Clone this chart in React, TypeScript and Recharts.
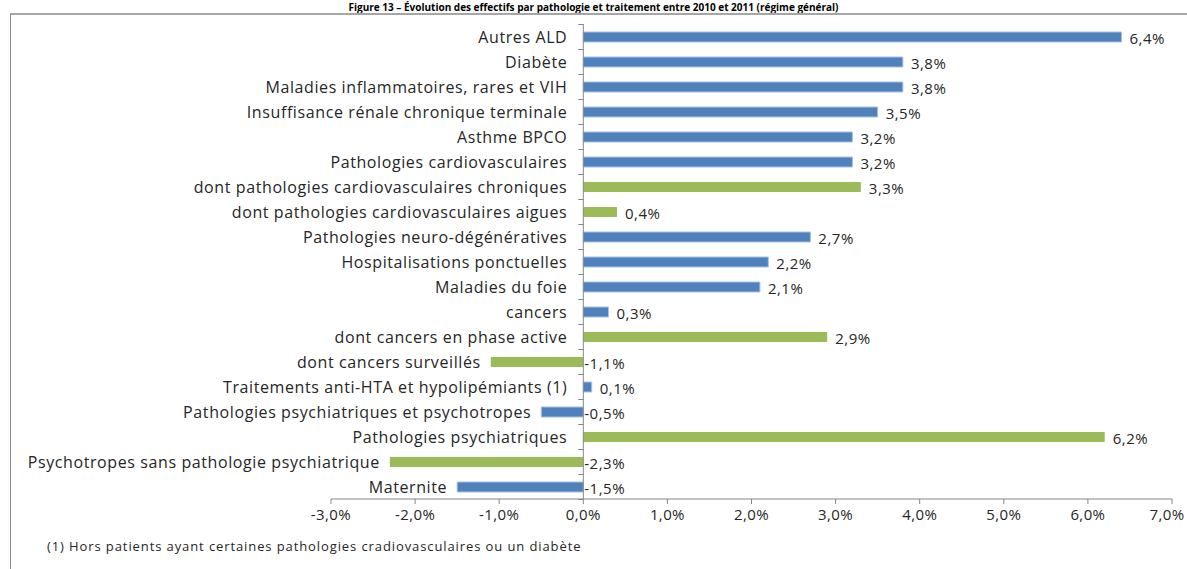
import React from 'react'
import { BarChart, Bar, XAxis, YAxis, ReferenceLine, LabelList, Cell } from 'recharts'

const categories = [
  'Autres ALD',
  'Diabète',
  'Maladies inflammatoires, rares et VIH',
  'Insuffisance rénale chronique terminale',
  'Asthme BPCO',
  'Pathologies cardiovasculaires',
  'dont pathologies cardiovasculaires chroniques',
  'dont pathologies cardiovasculaires aigues',
  'Pathologies neuro-dégénératives',
  'Hospitalisations ponctuelles',
  'Maladies du foie',
  'cancers',
  'dont cancers en phase active',
  'dont cancers surveillés',
  'Traitements anti-HTA et hypolipémiants (1)',
  'Pathologies psychiatriques et psychotropes',
  'Pathologies psychiatriques',
  'Psychotropes sans pathologie psychiatrique',
  'Maternite',
]
const values = [6.4, 3.8, 3.8, 3.5, 3.2, 3.2, 3.3, 0.4, 2.7, 2.2, 2.1, 0.3, 2.9, -1.1, 0.1, -0.5, 6.2, -2.3, -1.5]
// 'sub' = sous-catégorie "dont ..." (barres vertes)
const kinds = ['main', 'main', 'main', 'main', 'main', 'main', 'sub', 'sub', 'main', 'main', 'main', 'main', 'sub', 'sub', 'main', 'main', 'sub', 'sub', 'main']
const xTicks = [-3, -2, -1, 0, 1, 2, 3, 4, 5, 6, 7]

const BLUE = '#4f81bd'
const GREEN = '#9bbb59'
const FONT = '"Open Sans", sans-serif'
const TXT = '#262626'
const ROW = 25

const pct = (v: number) => `${v.toFixed(1).replace('.', ',')}%`

const data = categories.map((name, i) => ({ name, value: values[i], kind: kinds[i] }))

const NameLabel = (props: any) => {
  const { x, y, width, height, value, index } = props
  const left = Math.min(x, x + width)
  const zero = values[index] < 0 ? Math.max(x, x + width) : left
  const cy = y + height / 2
  const gap = values[index] < 0 ? 10 : 16
  return (
    <g>
      <text x={left - gap} y={cy} dy="0.35em" textAnchor="end" fontSize={16} letterSpacing={0.6} fontFamily={FONT} fill={TXT}>{value}</text>
      <line x1={zero - 5} x2={zero} y1={cy - ROW / 2} y2={cy - ROW / 2} stroke="#868686" />
      {index === categories.length - 1 && <line x1={zero - 5} x2={zero} y1={cy + ROW / 2} y2={cy + ROW / 2} stroke="#868686" />}
    </g>
  )
}

const ValueLabel = (props: any) => {
  const { x, y, width, height, index } = props
  const v = values[index]
  const right = Math.max(x, x + width)
  const lx = v < 0 ? right + 1 : right + 8
  return (
    <text x={lx} y={y + height / 2 + 2} dy="0.35em" textAnchor="start" fontSize={15} letterSpacing={0.5} fontFamily={FONT} fill={TXT}>{pct(v)}</text>
  )
}

// last tick label would run off the right edge: nudge it in
const XTick = (props: any) => {
  const { x, y, payload, index } = props
  const last = index === xTicks.length - 1
  return (
    <text x={last ? x - 5 : x} y={y} dy="0.9em" textAnchor="middle" fontSize={15} letterSpacing={0.4} fontFamily={FONT} fill={TXT}>
      {pct(payload.value)}
    </text>
  )
}

export default function App() {
  return (
    <div style={{ position: 'absolute', left: 0, top: 0, width: 1187, height: 569, overflow: 'hidden', background: '#fff' }}>
      <div style={{
        position: 'absolute', left: 0, width: 1187, top: 0, textAlign: 'center',
        fontFamily: FONT, fontWeight: 700, fontSize: 10, lineHeight: '14px', color: '#000',
      }}>
        Figure 13 – Évolution des effectifs par pathologie et traitement entre 2010 et 2011 (régime général)
      </div>
      <div style={{ position: 'absolute', left: 10, top: 13, width: 1200, height: 600, borderLeft: '1.5px solid #8c8c8c', borderTop: '2px solid #a6a6a6' }} />
      <div style={{ position: 'absolute', left: 0, top: 0 }}>
        <BarChart width={1187} height={569} data={data} layout="vertical" margin={{ top: 24, right: 15, bottom: 40, left: 331 }} barSize={10}>
          <XAxis
            type="number"
            domain={[-3, 7]}
            ticks={xTicks}
            tickFormatter={pct}
            height={30}
            stroke="#868686"
            tickSize={5}
            tick={<XTick />}
            interval={0}
          />
          <YAxis type="category" dataKey="name" hide />
          <ReferenceLine x={0} stroke="#868686" />
          <Bar dataKey="value" isAnimationActive={false}>
            {data.map((d, i) => (
              <Cell key={i} fill={d.kind === 'sub' ? GREEN : BLUE} stroke={d.kind === 'sub' ? 'none' : '#a9c1e0'} strokeWidth={1} />
            ))}
            <LabelList dataKey="name" content={<NameLabel />} />
            <LabelList dataKey="value" content={<ValueLabel />} />
          </Bar>
        </BarChart>
      </div>
      <div style={{ position: 'absolute', left: 47, top: 537, fontFamily: FONT, fontSize: 13, letterSpacing: 0.9, color: TXT, whiteSpace: 'nowrap' }}>
        (1) Hors patients ayant certaines pathologies cradiovasculaires ou un diabète
      </div>
    </div>
  )
}
